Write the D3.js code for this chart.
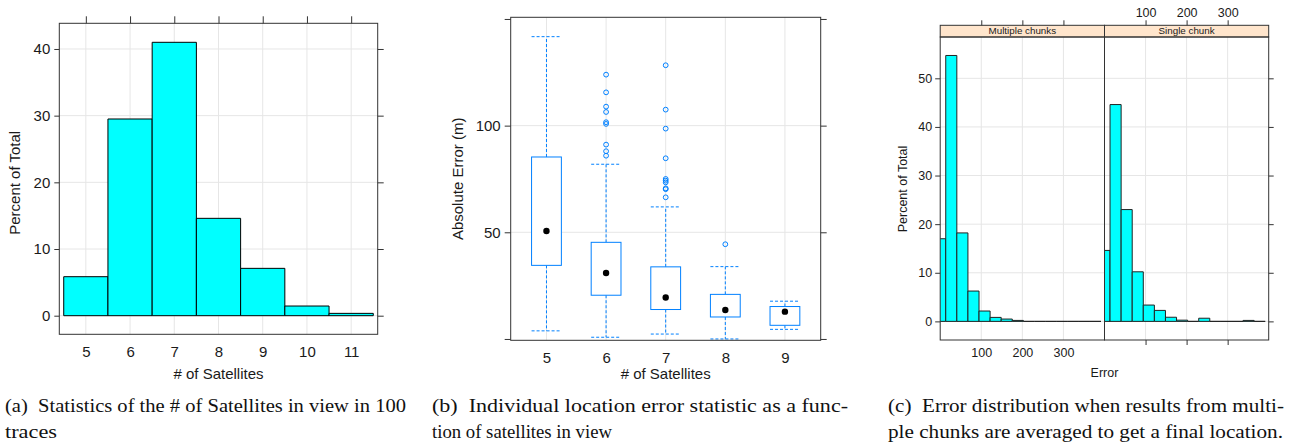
<!DOCTYPE html>
<html><head><meta charset="utf-8">
<script src="https://cdn.jsdelivr.net/npm/d3@7"></script>
<style>
body{margin:0;background:#fff;}
svg{display:block;}
</style></head><body>
<svg id="c" width="1294" height="448"></svg>
<script>
// ---------- data ----------
// (a) histogram of # of satellites
const satCategories = [5, 6, 7, 8, 9, 10, 11];
const satPercent = [5.85, 29.5, 41.0, 14.6, 7.1, 1.45, 0.35];
const satPercentTicks = [0, 10, 20, 30, 40];

// (b) box plot of absolute error by # of satellites
const boxGroups = [5, 6, 7, 8, 9];
const boxWhiskerLow = [3.8, 0.8, 2.3, 0.0, 4.5];
const boxQ1 = [34.5, 20.5, 13.8, 10.3, 6.4];
const boxMedian = [50.6, 30.9, 19.4, 13.6, 12.8];
const boxQ3 = [85.3, 45.3, 33.8, 20.9, 15.2];
const boxWhiskerHigh = [141.7, 81.9, 61.9, 33.9, 17.7];
const boxOutliers = [
  [],
  [123.9, 115.6, 108.9, 106.4, 101.6, 100.8, 91.1, 88.0, 85.9],
  [128.3, 107.5, 98.6, 84.7, 75.0, 74.2, 73.4, 70.6, 70.2, 66.4],
  [44.4],
  []
];
const errorTicks = [0, 50, 100, 150];
const errorTickLabels = ["", "50", "100", ""];

// (c) error histograms
const errPanels = ["Multiple chunks", "Single chunk"];
const errBreaks = [-13.5, 13.5, 40.5, 67.5, 94.5, 121.5, 148.5, 175.5, 202.5, 229.5, 256.5, 283.5, 310.5, 337.5, 364.5, 391.5];
const errMultiple = [17.0, 54.7, 18.2, 6.24, 2.13, 0.82, 0.48, 0.2, 0, 0, 0, 0, 0, 0, 0];
const errSingle = [14.6, 44.6, 23.0, 10.2, 3.36, 2.26, 0.85, 0.25, 0, 0.65, 0, 0, 0, 0.2, 0];
const errXTicks = [100, 200, 300];
const errYTicks = [0, 10, 20, 30, 40, 50];

const captions = [
  ["(a)\u00a0 Statistics of the # of Satellites in view in 100", "traces"],
  ["(b)\u00a0 Individual location error statistic as a func-", "tion of satellites in view"],
  ["(c)\u00a0 Error distribution when results from multi-", "ple chunks are averaged to get a final location."]
];

// ---------- style ----------
const SANS = "'Liberation Sans', Arial, Helvetica, sans-serif";
const SERIF = "'Liberation Serif', 'Times New Roman', serif";
const FRAME = "#333";
const GRID = "#e6e6e6";
const TXT = "#1a1a1a";
const CYAN = "#00ffff";
const BLUE = "#0080ff";

const svg = d3.select("#c");

function styleAxis(g, fontSize) {
  g.select(".domain").remove();
  g.selectAll(".tick line").attr("stroke", FRAME);
  g.selectAll(".tick text").attr("fill", TXT).style("font-family", SANS).style("font-size", fontSize + "px");
}
function frame(l, t, r, b) {
  svg.append("rect").attr("x", l).attr("y", t).attr("width", r - l).attr("height", b - t)
    .attr("fill", "none").attr("stroke", FRAME).attr("stroke-width", 1);
}
function barPath(x0, x1, yTop, yBase) {
  return `M${x0},${yBase}V${yTop}H${x1}V${yBase}Z`;
}

// ================= Panel (a) =================
{
  const L = 59.3, R = 377.7, T = 23.3, B = 334.3;
  const x = d3.scaleLinear().domain([4.4, 11.6]).range([L, R]);
  const y = d3.scaleLinear().domain([-2.79, 43.85]).range([B, T]);
  const g = svg.append("g");
  g.selectAll(".vg").data(satCategories).join("line")
    .attr("x1", d => x(d)).attr("x2", d => x(d)).attr("y1", T).attr("y2", B)
    .attr("stroke", GRID);
  g.selectAll(".hg").data(satPercentTicks).join("line").attr("class", "hg")
    .attr("x1", L).attr("x2", R).attr("y1", d => y(d)).attr("y2", d => y(d))
    .attr("stroke", GRID);
  g.selectAll(".bar").data(satCategories).join("path").attr("class", "bar")
    .attr("d", (d, i) => barPath(x(d - 0.5), x(d + 0.5), y(satPercent[i]), y(0)))
    .attr("fill", CYAN).attr("stroke", "#000").attr("stroke-width", 1);
  frame(L, T, R, B);
  styleAxis(svg.append("g").attr("transform", `translate(${L},0)`)
    .call(d3.axisLeft(y).tickValues(satPercentTicks).tickSize(5).tickPadding(4)), 15);
  styleAxis(svg.append("g").attr("transform", `translate(${R},0)`)
    .call(d3.axisRight(y).tickValues(satPercentTicks).tickSize(6).tickFormat("")), 15);
  styleAxis(svg.append("g").attr("transform", `translate(0,${T})`)
    .call(d3.axisTop(x).tickValues(satCategories).tickSize(7).tickFormat("")), 15);
  styleAxis(svg.append("g").attr("transform", `translate(0,${B})`)
    .call(d3.axisBottom(x).tickValues(satCategories).tickSize(0).tickPadding(12).tickFormat(d3.format("d"))), 15);
  svg.append("text").attr("x", (L + R) / 2).attr("y", 379).attr("text-anchor", "middle")
    .style("font-family", SANS).style("font-size", "15px").attr("fill", TXT).text("# of Satellites");
  svg.append("text").attr("transform", `translate(20,${(T + B) / 2 + 4}) rotate(-90)`).attr("text-anchor", "middle")
    .style("font-family", SANS).style("font-size", "15px").attr("fill", TXT).text("Percent of Total");
}

// ================= Panel (b) =================
{
  const L = 510.7, R = 820.7, T = 17.3, B = 340.3;
  const x = d3.scaleLinear().domain([4.4, 9.6]).range([L, R]);
  const y = d3.scaleLinear().domain([-0.63, 150.78]).range([B, T]);
  const bw = (x(1) - x(0)) * 0.5;
  const g = svg.append("g");
  g.selectAll(".vg").data(boxGroups).join("line")
    .attr("x1", d => x(d)).attr("x2", d => x(d)).attr("y1", T).attr("y2", B).attr("stroke", GRID);
  g.selectAll(".hg").data([50, 100]).join("line").attr("class", "hg")
    .attr("x1", L).attr("x2", R).attr("y1", d => y(d)).attr("y2", d => y(d)).attr("stroke", GRID);
  const grp = g.selectAll(".box").data(boxGroups).join("g").attr("class", "box");
  grp.append("line").attr("x1", d => x(d)).attr("x2", d => x(d))
    .attr("y1", (d, i) => y(boxQ3[i])).attr("y2", (d, i) => y(boxWhiskerHigh[i]))
    .attr("stroke", BLUE).attr("stroke-dasharray", "3,2");
  grp.append("line").attr("x1", d => x(d)).attr("x2", d => x(d))
    .attr("y1", (d, i) => y(boxQ1[i])).attr("y2", (d, i) => y(boxWhiskerLow[i]))
    .attr("stroke", BLUE).attr("stroke-dasharray", "3,2");
  grp.append("line").attr("x1", d => x(d) - bw / 2).attr("x2", d => x(d) + bw / 2)
    .attr("y1", (d, i) => y(boxWhiskerHigh[i])).attr("y2", (d, i) => y(boxWhiskerHigh[i]))
    .attr("stroke", BLUE).attr("stroke-dasharray", "3,2");
  grp.append("line").attr("x1", d => x(d) - bw / 2).attr("x2", d => x(d) + bw / 2)
    .attr("y1", (d, i) => y(boxWhiskerLow[i])).attr("y2", (d, i) => y(boxWhiskerLow[i]))
    .attr("stroke", BLUE).attr("stroke-dasharray", "3,2");
  grp.append("rect").attr("x", d => x(d) - bw / 2).attr("width", bw)
    .attr("y", (d, i) => y(boxQ3[i])).attr("height", (d, i) => y(boxQ1[i]) - y(boxQ3[i]))
    .attr("fill", "#fff").attr("stroke", BLUE).attr("stroke-width", 1);
  grp.append("circle").attr("cx", d => x(d)).attr("cy", (d, i) => y(boxMedian[i])).attr("r", 3.2).attr("fill", "#000");
  grp.each(function (d, i) {
    d3.select(this).selectAll(".out").data(boxOutliers[i]).join("circle").attr("class", "out")
      .attr("cx", x(d)).attr("cy", v => y(v)).attr("r", 2.4)
      .attr("fill", "none").attr("stroke", BLUE).attr("stroke-width", 1);
  });
  frame(L, T, R, B);
  styleAxis(svg.append("g").attr("transform", `translate(${L},0)`)
    .call(d3.axisLeft(y).tickValues(errorTicks).tickSize(6).tickPadding(4)
      .tickFormat((d, i) => errorTickLabels[i])), 15);
  styleAxis(svg.append("g").attr("transform", `translate(${R},0)`)
    .call(d3.axisRight(y).tickValues(errorTicks).tickSize(6).tickFormat("")), 15);
  styleAxis(svg.append("g").attr("transform", `translate(0,${B})`)
    .call(d3.axisBottom(x).tickValues(boxGroups).tickSize(0).tickPadding(12).tickFormat(d3.format("d"))), 15);
  svg.append("text").attr("x", (L + R) / 2).attr("y", 379).attr("text-anchor", "middle")
    .style("font-family", SANS).style("font-size", "15px").attr("fill", TXT).text("# of Satellites");
  svg.append("text").attr("transform", `translate(463,${(T + B) / 2}) rotate(-90)`).attr("text-anchor", "middle")
    .style("font-family", SANS).style("font-size", "15px").attr("fill", TXT).text("Absolute Error (m)");
}

// ================= Panel (c) =================
{
  const L = 940.2, M = 1104.5, R = 1268.7, ST = 25.3, T = 37, B = 340;
  const y = d3.scaleLinear().domain([-3.83, 58.5]).range([B, T]);
  const xs = [d3.scaleLinear().domain([0, 400]).range([L, M]), d3.scaleLinear().domain([0, 400]).range([M, R])];
  const series = [errMultiple, errSingle];
  const defs = svg.append("defs");
  xs.forEach((x, p) => {
    const cid = "clipc" + p;
    defs.append("clipPath").attr("id", cid).append("rect")
      .attr("x", x.range()[0]).attr("y", T).attr("width", x.range()[1] - x.range()[0]).attr("height", B - T);
    const g = svg.append("g");
    g.selectAll(".vg").data(errXTicks).join("line")
      .attr("x1", d => x(d)).attr("x2", d => x(d)).attr("y1", T).attr("y2", B).attr("stroke", GRID);
    g.selectAll(".hg").data(errYTicks).join("line").attr("class", "hg")
      .attr("x1", x.range()[0]).attr("x2", x.range()[1]).attr("y1", d => y(d)).attr("y2", d => y(d)).attr("stroke", GRID);
    const bins = series[p].map((v, i) => ({ x0: errBreaks[i], x1: errBreaks[i + 1], v }));
    g.append("g").attr("clip-path", `url(#${cid})`).selectAll("path").data(bins).join("path")
      .attr("d", d => barPath(x(d.x0), x(d.x1), y(d.v), y(0)))
      .attr("fill", CYAN).attr("stroke", "#222").attr("stroke-width", 1);
    svg.append("rect").attr("x", x.range()[0]).attr("y", ST).attr("width", x.range()[1] - x.range()[0]).attr("height", T - ST)
      .attr("fill", "#ffe5cc").attr("stroke", FRAME);
    svg.append("text").attr("x", (x.range()[0] + x.range()[1]) / 2).attr("y", T - 2.8).attr("text-anchor", "middle")
      .style("font-family", SANS).style("font-size", "9.8px").attr("fill", TXT).text(errPanels[p]);
    frame(x.range()[0], T, x.range()[1], B);
    styleAxis(svg.append("g").attr("transform", `translate(0,${ST})`)
      .call(d3.axisTop(x).tickValues(errXTicks).tickSize(5).tickPadding(3).tickFormat(p === 1 ? d3.format("d") : "")), 12.5);
    styleAxis(svg.append("g").attr("transform", `translate(0,${B})`)
      .call(d3.axisBottom(x).tickValues(errXTicks).tickSize(p === 1 ? 5 : 0).tickPadding(8).tickFormat(p === 0 ? d3.format("d") : "")), 12.5);
  });
  styleAxis(svg.append("g").attr("transform", `translate(${L},0)`)
    .call(d3.axisLeft(y).tickValues(errYTicks).tickSize(5).tickPadding(3)), 12.5);
  styleAxis(svg.append("g").attr("transform", `translate(${R},0)`)
    .call(d3.axisRight(y).tickValues(errYTicks).tickSize(5).tickFormat("")), 12.5);
  svg.append("text").attr("x", M).attr("y", 377).attr("text-anchor", "middle")
    .style("font-family", SANS).style("font-size", "12.5px").attr("fill", TXT).text("Error");
  svg.append("text").attr("transform", `translate(907,${189}) rotate(-90)`).attr("text-anchor", "middle")
    .style("font-family", SANS).style("font-size", "12.5px").attr("fill", TXT).text("Percent of Total");
}

// ================= Captions =================
{
  const capX = [5, 432, 888];
  const capW = [[401, 52], [416, 180], [396, 395]];
  const capY = [412, 438];
  captions.forEach((lines, c) => {
    lines.forEach((s, k) => {
      svg.append("text").attr("x", capX[c]).attr("y", capY[k])
        .attr("textLength", capW[c][k]).attr("lengthAdjust", "spacingAndGlyphs")
        .style("font-family", SERIF).style("font-size", "19px").attr("fill", "#111").text(s);
    });
  });
}
</script>
</body></html>
